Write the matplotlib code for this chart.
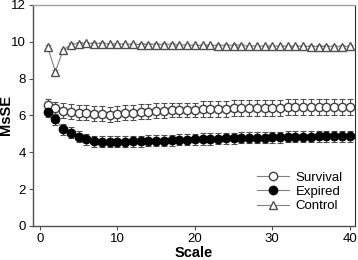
import matplotlib.pyplot as plt
import numpy as np

plt.rcParams['font.family'] = ['Liberation Sans', 'DejaVu Sans']

scale = np.arange(1, 41)

survival = [6.55, 6.4, 6.25, 6.2, 6.15, 6.15, 6.1, 6.1, 6.05, 6.1,
            6.15, 6.15, 6.2, 6.2, 6.25, 6.25, 6.3, 6.3, 6.3, 6.3,
            6.35, 6.35, 6.35, 6.35, 6.4, 6.4, 6.4, 6.4, 6.4, 6.4,
            6.4, 6.45, 6.45, 6.45, 6.45, 6.45, 6.45, 6.45, 6.45, 6.45]
survival_err = [0.35, 0.35, 0.4, 0.4, 0.4, 0.4, 0.4, 0.4, 0.4, 0.4,
                0.4, 0.4, 0.4, 0.4, 0.4, 0.4, 0.4, 0.4, 0.4, 0.4,
                0.42, 0.42, 0.42, 0.42, 0.42, 0.42, 0.42, 0.42, 0.42, 0.42,
                0.42, 0.42, 0.42, 0.42, 0.42, 0.42, 0.42, 0.42, 0.42, 0.42]

expired = [6.2, 5.8, 5.25, 5.05, 4.85, 4.7, 4.6, 4.58, 4.58, 4.58,
           4.58, 4.6, 4.6, 4.62, 4.62, 4.63, 4.65, 4.67, 4.68, 4.7,
           4.72, 4.72, 4.74, 4.75, 4.76, 4.78, 4.78, 4.8, 4.8, 4.82,
           4.82, 4.84, 4.84, 4.85, 4.85, 4.86, 4.86, 4.87, 4.87, 4.88]
expired_err = [0.3] * 40

control = [9.72, 8.38, 9.55, 9.85, 9.9, 9.92, 9.9, 9.9, 9.88, 9.88,
           9.86, 9.86, 9.85, 9.85, 9.84, 9.84, 9.83, 9.82, 9.82, 9.8,
           9.8, 9.8, 9.79, 9.78, 9.78, 9.78, 9.77, 9.77, 9.76, 9.76,
           9.76, 9.75, 9.75, 9.75, 9.74, 9.74, 9.74, 9.73, 9.73, 9.75]
control_err = [0.08] * 40

fig = plt.figure(figsize=(3.58, 2.6), dpi=100)
ax = fig.add_axes([0.092, 0.131, 0.9, 0.85])

ax.errorbar(scale, survival, yerr=survival_err, fmt='-o', color='#808080',
            mfc='white', mec='#404040', ms=6, lw=0.8, elinewidth=0.8,
            capsize=2.5, capthick=0.8, ecolor='#505050', label='Survival', zorder=3)
ax.errorbar(scale, expired, yerr=expired_err, fmt='-o', color='#808080',
            mfc='black', mec='black', ms=6, lw=0.8, elinewidth=0.8,
            capsize=2.5, capthick=0.8, ecolor='#505050', label='Expired', zorder=3)
ax.errorbar(scale, control, yerr=control_err, fmt='-^', color='#808080',
            mfc='white', mec='#505050', ms=6, lw=0.8, elinewidth=0.8,
            capsize=2.0, capthick=0.8, ecolor='#909090', label='Control', zorder=3)

ax.set_xlim(-0.9, 40.7)
ax.set_ylim(0, 12)
ax.set_xticks([0, 10, 20, 30, 40])
ax.set_yticks([0, 2, 4, 6, 8, 10, 12])
ax.tick_params(direction='out', length=3, width=0.8, labelsize=9.5, pad=2,
               color='#505050')
ax.set_xlabel('Scale', fontsize=10.5, fontweight='bold', labelpad=1)
ax.set_ylabel('MsSE', fontsize=10.5, fontweight='bold')
ax.yaxis.set_label_coords(-0.062, 0.5)

for side in ['left', 'bottom']:
    ax.spines[side].set_color('#505050')
    ax.spines[side].set_linewidth(1.0)
ax.spines['top'].set_color('#a0a0a0')
ax.spines['right'].set_color('#303030')
ax.spines['top'].set_linewidth(1.0)
ax.spines['right'].set_linewidth(0.8)

handles, labels = ax.get_legend_handles_labels()
handles = [h[0] for h in handles]
ax.legend(handles, labels, loc='lower right', frameon=False, fontsize=9.5,
          handlelength=2.4, handletextpad=0.5, labelspacing=0.15,
          borderaxespad=0.3, bbox_to_anchor=(0.99, 0.02))

fig.savefig('out.png', dpi=100)
